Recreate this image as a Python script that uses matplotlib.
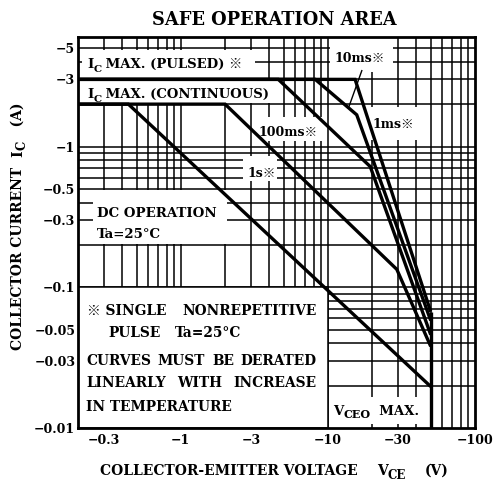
import matplotlib
matplotlib.use('Agg')
import matplotlib.pyplot as plt
from matplotlib.patches import Rectangle
from matplotlib.ticker import NullLocator

FAM = ['DejaVu Serif', 'Noto Sans CJK JP']
plt.rcParams['font.family'] = FAM
plt.rcParams['font.weight'] = 'bold'

# ---------------- data ----------------
x_ticks = [0.3, 1, 3, 10, 30, 100]
x_tick_labels = ['−0.3', '−1', '−3', '−10', '−30', '−100']
y_ticks = [5, 3, 1, 0.5, 0.3, 0.1, 0.05, 0.03, 0.01]
y_tick_labels = ['−5', '−3', '−1', '−0.5', '−0.3', '−0.1', '−0.05', '−0.03', '−0.01']

x_grid = [0.3, 0.4, 0.5, 0.6, 0.7, 0.8, 0.9, 1, 2, 3, 4, 5, 6, 7, 8, 9,
          10, 20, 30, 40, 50, 60, 70, 80, 90]
y_grid = [0.02, 0.03, 0.04, 0.05, 0.06, 0.07, 0.08, 0.09,
          0.1, 0.2, 0.3, 0.4, 0.5, 0.6, 0.7, 0.8, 0.9, 1, 2, 3, 4, 5]

# |V_CE| (V) and |I_C| (A) of each SOA boundary
dc_v = [0.2, 0.44, 50]
dc_i = [2.0, 2.0, 0.0197]
s1_v = [0.2, 2.0, 29.4, 50]
s1_i = [2.0, 2.0, 0.134, 0.038]
ms100_v = [0.2, 4.6, 19.4, 50]
ms100_i = [3.0, 3.0, 0.72, 0.046]
ms10_v = [0.2, 8.2, 15.7, 50]
ms10_i = [3.0, 3.0, 1.68, 0.058]
ms1_v = [0.2, 15.3, 50]
ms1_i = [3.0, 3.0, 0.067]
vceo_v = [50, 50]
vceo_i = [0.01, 0.067]

# ---------------- figure ----------------
W, H = 493, 482
fig = plt.figure(figsize=(W / 100, H / 100), dpi=100)
AX_L, AX_R, AX_T, AX_B = 78, 475, 37, 428
ax = fig.add_axes([AX_L / W, 1 - AX_B / H, (AX_R - AX_L) / W, (AX_B - AX_T) / H])
ax.set_xscale('log')
ax.set_yscale('log')
ax.set_xlim(0.2, 100)
ax.set_ylim(0.01, 6)

ax.vlines(x_grid, 0.01, 6, color='black', lw=1.1, zorder=1)
ax.hlines(y_grid, 0.2, 100, color='black', lw=1.1, zorder=1)

# white label boxes that interrupt the grid (v0, v1, i0, i1)
boxes = [
    (0.213, 3.2, 3.08, 4.88),    # IC MAX pulsed
    (0.213, 4.45, 2.04, 2.95),   # IC MAX continuous
    (0.253, 2.05, 0.204, 0.49),  # DC operation
    (2.65, 4.5, 0.57, 0.85),     # 1s
    (3.24, 9.07, 1.10, 1.62),    # 100ms
    (10.4, 27.9, 3.38, 6.0),     # 10ms
    (18.9, 42.7, 1.12, 1.91),    # 1ms
    (10.3, 49.0, 0.01, 0.0166),  # VCEO max
]
for v0, v1, i0, i1 in boxes:
    ax.add_patch(Rectangle((v0, i0), v1 - v0, i1 - i0, fc='white', ec='none', zorder=2))
ax.add_patch(Rectangle((0.2, 0.01), 9.8, 0.09, fc='white', ec='black', lw=1.1, zorder=2))
# short grid stubs left at the bottom of the VCEO box
ax.vlines([20, 30, 40], 0.01, 0.0106, color='black', lw=1.1, zorder=3)

for v, i in [(dc_v, dc_i), (s1_v, s1_i), (ms100_v, ms100_i), (ms10_v, ms10_i),
             (ms1_v, ms1_i), (vceo_v, vceo_i)]:
    ax.plot(v, i, color='black', lw=2.4, zorder=5, solid_joinstyle='miter',
            solid_capstyle='butt')
# pointer of the 10ms label
ax.plot([17.0, 13.8], [3.46, 1.88], color='black', lw=1.0, zorder=5)

for s in ax.spines.values():
    s.set_linewidth(2.0)
    s.set_zorder(6)

ax.set_xticks(x_ticks, x_tick_labels)
ax.set_yticks(y_ticks, y_tick_labels)
ax.xaxis.set_minor_locator(NullLocator())
ax.yaxis.set_minor_locator(NullLocator())
ax.tick_params(length=0, labelsize=9, pad=4)
ax.tick_params(axis='y', pad=2)
for t in ax.get_xticklabels() + ax.get_yticklabels():
    t.set_fontweight('bold')

# ---------------- text helpers ----------------
renderer = fig.canvas.get_renderer()


def put(x, y, s, size, **kw):
    return fig.text(x / W, 1 - y / H, s, fontsize=size, fontweight='bold',
                    va='baseline', family=FAM, **kw)


def runs(x, y, parts, rotation=0):
    """parts: (text, size, baseline offset px); x, y in image pixels (baseline)."""
    cur = x if rotation == 0 else y
    for s, size, dy in parts:
        if rotation == 0:
            t = put(cur, y + dy, s, size, ha='left')
            cur += t.get_window_extent(renderer).width
        else:
            t = fig.text((x + dy) / W, 1 - cur / H, s, fontsize=size, fontweight='bold',
                         ha='left', va='baseline', rotation=90, rotation_mode='anchor',
                         family=FAM)
            cur -= t.get_window_extent(renderer).height


def justify(x0, x1, y, words, size):
    objs = [put(x0, y, w, size, ha='left') for w in words]
    widths = [o.get_window_extent(renderer).width for o in objs]
    gap = (x1 - x0 - sum(widths)) / (len(words) - 1)
    cur = x0
    for o, w in zip(objs, widths):
        o.set_x(cur / W)
        cur += w + gap


NOTE = 9.9
runs(152, 25, [('SAFE OPERATION AREA', 12.8, 0)])
runs(87, 68, [('I', 9.5, 0), ('C', 7.5, 4), (' MAX. (PULSED) ※', 9.5, 0)])
runs(87, 98, [('I', 9.5, 0), ('C', 7.5, 4), (' MAX. (CONTINUOUS)', 9.5, 0)])
runs(97, 217, [('DC OPERATION', 9.6, 0)])
runs(97, 238, [('Ta=25°C', 9.6, 0)])
justify(87, 317, 315, ['※ SINGLE', 'NONREPETITIVE'], NOTE)
put(108, 337, 'PULSE', NOTE, ha='left')
put(175, 337, 'Ta=25°C', NOTE, ha='left')
justify(86, 317, 365, ['CURVES', 'MUST', 'BE', 'DERATED'], NOTE)
justify(86, 317, 387, ['LINEARLY', 'WITH', 'INCREASE'], NOTE)
put(86, 411, 'IN TEMPERATURE', NOTE, ha='left')
runs(333, 415, [('V', 9.5, 0), ('CEO', 8, 3), ('  MAX.', 9.5, 0)])
runs(335, 62, [('10ms※', 9, 0)])
runs(372, 128, [('1ms※', 9, 0)])
runs(258, 136, [('100ms※', 9, 0)])
runs(247, 177, [('1s※', 9, 0)])

runs(100, 475, [('COLLECTOR-EMITTER VOLTAGE', 10, 0)])
runs(377, 475, [('V', 10, 0), ('CE', 8.5, 4)])
put(425, 475, '(V)', 10, ha='left')
runs(22, 350, [('COLLECTOR CURRENT  ', 10, 0), ('I', 10, 0), ('C', 8.5, 4),
               ('   (A)', 10, 0)], rotation=90)

fig.savefig('out.png', dpi=100, facecolor='white')
